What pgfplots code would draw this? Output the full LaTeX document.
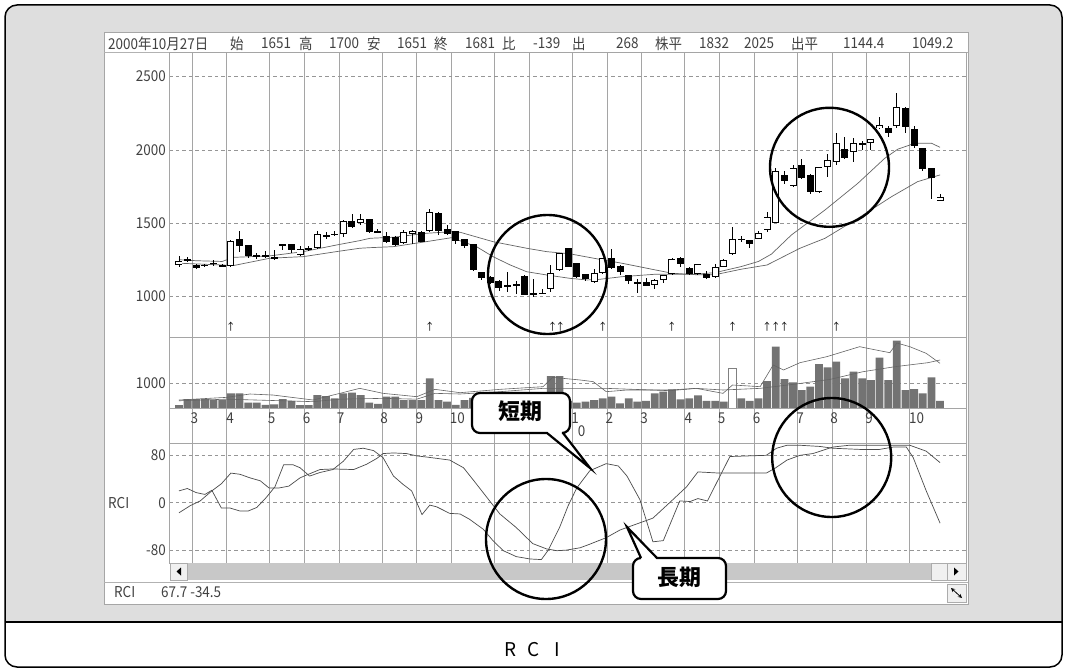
\documentclass[border=0pt]{standalone}
\usepackage{pgfplots}
\pgfplotsset{compat=1.18}
\usepackage{pgfplotstable}
\usepackage{fontspec}
\newfontfamily\cjk[FakeStretch=0.9]{Noto Sans CJK JP}
\newfontfamily\cjkn{Noto Sans CJK JP}
\definecolor{framegray}{RGB}{222,222,222}
\definecolor{gridv}{RGB}{165,165,165}
\definecolor{gridd}{RGB}{150,150,150}
\definecolor{volgray}{RGB}{115,115,115}
\definecolor{magray}{RGB}{100,100,100}
\definecolor{rcigray}{RGB}{75,75,75}
\definecolor{txt}{RGB}{65,65,65}
\definecolor{scroll}{RGB}{200,200,200}

\pgfplotstableread{
i O H L C
0 1215 1280 1205 1240
1 1250 1270 1235 1255
2 1216 1222 1190 1198
3 1214 1225 1200 1214
4 1228 1250 1210 1228
5 1209 1225 1200 1209
6 1211 1385 1205 1380
7 1393 1448 1307 1346
8 1350 1352 1265 1278
9 1280 1300 1260 1280
10 1280 1310 1265 1280
11 1273 1318 1250 1255
12 1360 1362 1320 1350
13 1357 1358 1300 1318
14 1284 1345 1280 1323
15 1325 1345 1310 1325
16 1330 1450 1325 1425
17 1414 1440 1395 1414
18 1425 1450 1415 1425
19 1425 1520 1410 1518
20 1518 1564 1470 1477
21 1500 1565 1490 1532
22 1528 1530 1435 1443
23 1443 1460 1435 1443
24 1416 1440 1365 1375
25 1409 1412 1345 1352
26 1364 1455 1360 1443
27 1427 1455 1360 1448
28 1443 1445 1370 1375
29 1448 1600 1440 1580
30 1573 1580 1420 1448
31 1461 1489 1420 1427
32 1448 1450 1360 1380
33 1391 1395 1330 1346
34 1359 1360 1175 1182
35 1166 1170 1115 1125
36 1136 1140 1085 1091
37 1109 1112 1040 1057
38 1080 1170 1030 1064
39 1080 1110 1015 1080
40 1143 1146 1010 1012
41 1018 1119 1000 1018
42 1023 1050 1018 1023
43 1050 1216 1035 1160
44 1182 1296 1175 1296
45 1330 1335 1200 1205
46 1228 1232 1130 1136
47 1153 1156 1110 1119
48 1098 1190 1095 1160
49 1160 1262 1155 1262
50 1262 1323 1190 1198
51 1211 1215 1150 1166
52 1148 1150 1085 1109
53 1087 1120 1023 1098
54 1102 1130 1070 1075
55 1080 1120 1050 1114
56 1114 1150 1095 1148
57 1155 1265 1150 1255
58 1266 1270 1205 1221
59 1198 1200 1150 1153
60 1153 1225 1150 1223
61 1153 1175 1120 1125
62 1132 1220 1128 1200
63 1205 1255 1200 1250
64 1291 1477 1285 1393
65 1391 1415 1370 1391
66 1386 1388 1335 1357
67 1393 1450 1390 1432
68 1455 1575 1440 1545
69 1505 1880 1500 1857
70 1830 1855 1765 1791
71 1755 1900 1750 1875
72 1898 1940 1800 1807
73 1830 1835 1700 1716
74 1716 1885 1710 1882
75 1882 1975 1818 1932
76 1920 2118 1898 2046
77 2005 2091 1935 1943
78 1989 2080 1920 2046
79 2041 2060 2000 2041
80 2046 2073 2000 2073
81 2148 2227 2140 2171
82 2148 2160 2087 2118
83 2160 2387 2150 2290
84 2285 2290 2114 2155
85 2141 2160 2010 2027
86 2012 2015 1860 1868
87 1875 1880 1664 1811
88 1651 1700 1651 1681
}\candles

\pgfplotstableread{
i V
0 132
1 372
2 372
3 372
4 332
5 332
6 598
7 598
8 226
9 226
10 133
11 153
12 372
13 300
14 130
15 130
16 532
17 492
18 399
19 598
20 625
21 532
22 226
23 180
24 465
25 465
26 332
27 332
28 332
29 1200
30 332
31 266
32 133
33 332
34 420
35 380
36 450
37 520
38 480
39 430
40 560
41 500
42 420
43 1292
44 1292
45 300
46 226
47 266
48 332
49 398
50 465
51 200
52 398
53 266
54 300
55 598
56 665
57 758
58 358
59 398
60 518
61 300
62 300
63 266
64 0
65 398
66 300
67 398
68 1092
69 2465
70 1172
71 1039
72 732
73 865
74 1772
75 1638
76 1865
77 1198
78 1465
79 1198
80 1132
81 2025
82 1132
83 2705
84 732
85 772
86 598
87 1238
88 300
}\volume

\pgfplotsset{panel/.style={
  scale only axis, anchor=north west, width=796.7bp,
  xmin=-1.12, xmax=91.0,
  xtick={1.5,5.5,10.5,14.5,18.5,23.5,27.5,31.5,36.5,40.5,45.5,49.5,53.5,58.5,62.5,66.5,71.5,75.5,79.5,84.5},
  xticklabels={},
  xmajorgrids, ymajorgrids,
  x grid style={gridv, line width=0.9bp},
  y grid style={gridd, line width=0.8bp, dash pattern=on 3.5bp off 3bp},
  axis line style={draw=gridv, line width=0.9bp},
  tick style={draw=none}, major tick length=0pt,
  yticklabel style={font=\cjk\fontsize{15}{15}\selectfont, text=txt},
  clip=true,
}}

\begin{document}
\begin{tikzpicture}[x=1bp,y=1bp]
\path[use as bounding box] (0,0) rectangle (1067,-672);
\fill[white] (0,0) rectangle (1067,-672);
\begin{scope}
\clip[rounded corners=12bp] (5,-5) rectangle (1062,-667);
\fill[framegray] (5,-5) rectangle (1062,-622);
\fill[white] (5,-622) rectangle (1062,-667);
\end{scope}
\draw[line width=1.5bp, rounded corners=12bp] (5,-5) rectangle (1062,-667);
\draw[line width=1.2bp] (5,-622) -- (1062,-622);

% chart window
\draw[fill=white, draw=gray!70, line width=1bp] (104,-33) rectangle (968,-604);
\draw[gray!60, line width=0.9bp] (104,-52.7) -- (968,-52.7);
\draw[gray!60, line width=0.9bp] (104,-582) -- (968,-582);

% header
\begin{scope}[every node/.style={anchor=west, inner sep=0pt, text=txt, font=\cjk\fontsize{15}{15}\selectfont}]
\node at (108,-43.5) {2000年10月27日};
\node at (230,-43.5) {始};
\node at (261,-43.5) {1651};
\node at (299,-43.5) {高};
\node at (329,-43.5) {1700};
\node at (367,-43.5) {安};
\node at (397,-43.5) {1651};
\node at (434,-43.5) {終};
\node at (465,-43.5) {1681};
\node at (502,-43.5) {比};
\node at (533,-43.5) {-139};
\node at (572,-43.5) {出};
\node at (616,-43.5) {268};
\node at (655,-43.5) {株平};
\node at (699,-43.5) {1832};
\node at (744,-43.5) {2025};
\node at (791,-43.5) {出平};
\node at (843,-43.5) {1144.4};
\node at (912,-43.5) {1049.2};
\end{scope}

% price panel
\begin{axis}[panel, at={(169.3bp,-52.7bp)}, height=284.3bp, ymin=725, ymax=2663,
  ytick={1000,1500,2000,2500}, yticklabels={1000,1500,2000,2500}]
\addplot[magray, line width=0.7bp, mark=none] coordinates {(0,1252) (2,1245) (5,1240) (6.3,1268) (10.5,1278) (14.4,1307) (18.2,1352) (20.9,1382) (22.1,1398) (24.8,1405) (28.6,1432) (31.5,1443) (32.5,1439) (36.3,1375) (40.2,1330) (42.5,1307) (45.2,1292) (48.6,1255) (51.2,1228) (55.1,1182) (57,1160) (59.7,1150) (62,1150) (65,1187) (68,1216) (71.8,1330) (74.7,1398) (78.5,1534) (82.4,1682) (85.4,1784) (88,1830)};
\addplot[magray, line width=0.7bp, mark=none] coordinates {(0,1228) (5,1216) (6.3,1212) (10.5,1262) (14.4,1273) (18.2,1307) (20.9,1330) (22.1,1334) (24.8,1341) (28.6,1375) (31.5,1402) (34.4,1341) (36.3,1273) (38.3,1216) (40.2,1170) (42.5,1148) (45.2,1125) (47.2,1114) (48.6,1118) (51.2,1136) (55.1,1153) (59.7,1153) (62,1164) (65,1205) (67,1240) (68.5,1290) (70.8,1420) (74.7,1591) (78.5,1773) (81.6,1943) (83.1,2005) (85.1,2046) (87,2046) (88,2018)};
% wicks
\addplot[draw=none, mark=none, error bars/.cd, y dir=both, y explicit, error mark=none,
  error bar style={draw=black, line width=0.9bp}]
  table[x=i, y expr={0.5*(\thisrow{H}+\thisrow{L})}, y error expr={0.5*(\thisrow{H}-\thisrow{L})}] {\candles};
% bodies
\addplot[draw=none, mark=none, error bars/.cd, y dir=both, y explicit, error mark=none,
  error bar style={draw=black, line width=7bp}]
  table[x=i, y expr={0.5*(\thisrow{O}+\thisrow{C})}, y error expr={max(0.5*abs(\thisrow{C}-\thisrow{O}),4)}] {\candles};
% hollow up bodies
\addplot[draw=none, mark=none, error bars/.cd, y dir=both, y explicit, error mark=none,
  error bar style={draw=white, line width=5.2bp}]
  table[x=i, y expr={0.5*(\thisrow{O}+\thisrow{C})}, y error expr={max(0.5*(\thisrow{C}-\thisrow{O})-7,0)}] {\candles};
% signal arrows
\addplot[only marks, black, mark=text, text mark={\cjkn\fontsize{10}{10}\selectfont ↑}]
  coordinates {(6,795) (29,795) (43.2,795) (44.1,795) (49,795) (57,795) (64,795) (68,795) (69,795) (70,795) (76,795)};
\end{axis}

% volume panel
\begin{axis}[panel, at={(169.3bp,-337bp)}, height=106bp, ymin=-1388, ymax=2852,
  ytick={1000}, yticklabels={1000}]
\addplot[ybar, bar width=0.9, bar shift=0pt, fill=volgray, draw=none] table[x=i, y=V] {\volume};
\addplot[ybar, bar width=0.9, bar shift=0pt, fill=white, draw=gray, line width=0.8bp] coordinates {(64,1598)};
\addplot[magray, line width=0.6bp, mark=none] coordinates {(0,332) (5.5,438) (8.2,572) (10.9,530) (15.5,332) (18.6,598) (20.9,798) (23.6,598) (27.5,465) (29.6,758) (32.5,625) (37.1,758) (42.1,865) (43.2,1238) (46.4,1132) (47.9,1066) (49.4,665) (51.8,732) (56.8,732) (59.8,798) (62.9,598) (64,932) (67.2,865) (68.7,1732) (69.9,1532) (71.8,1825) (74.9,2065) (78.7,2465) (81,2305) (82.2,2225) (83,2612) (84.5,2465) (86.4,2198) (88,1798)};
\addplot[magray, line width=0.6bp, mark=none] coordinates {(0,301) (5.5,365) (15.5,266) (18.6,365) (23.6,398) (27.5,365) (29.6,598) (32.5,572) (37.1,665) (42.1,798) (46.4,798) (49.4,798) (56.8,705) (59.8,798) (62.9,732) (67.2,798) (71.4,975) (75.3,1158) (79.1,1465) (82.8,1665) (86.6,1825) (88,1932)};
\draw[gridv, line width=0.9bp] (axis cs:-1.12,0) -- (axis cs:91,0);
\end{axis}

% RCI panel
\begin{axis}[panel, at={(169.3bp,-443bp)}, height=120bp, ymin=-101.8, ymax=100.8,
  ytick={-80,0,80}, yticklabels={-80,0,80}]
\addplot[rcigray, line width=0.7bp, mark=none] coordinates {(0,20) (0.96,24) (2,17) (3,14) (3.8,21) (4.9,-9) (5.9,-9) (7.05,-14) (8,-14) (9,-8) (10.1,9) (11.1,27) (12.1,64) (13.2,64) (14,59) (15.1,45) (16.3,51) (17.8,56) (19,70) (20.2,90) (21.3,92) (22.5,88) (23.6,76) (24.8,45) (25.9,31) (26.9,20) (28.1,-20) (29,-4) (29.8,-7) (31.3,-18) (32.5,-19) (33.6,-28) (35.2,-45) (36.3,-64) (37.5,-81) (39,-91) (40.6,-95) (41.9,-96) (42.7,-80) (44,-42) (45,-5) (46,25) (47.5,54) (49.4,66) (50.8,62) (51.8,45) (53.3,5) (54.8,-66) (56,-64) (57.9,3) (59.1,2) (60,7) (61.1,3) (63.7,78) (67.9,80) (69.1,92) (70.3,97) (71.8,97) (74.1,95) (75.6,92) (78.7,90) (81,90) (82.6,94) (84.1,94) (84.9,76) (86.4,20) (88,-34.5)};
\addplot[rcigray, line width=0.7bp, mark=none] coordinates {(0,-17) (1.3,-5) (2.45,3) (3.8,20) (4.9,32) (6,50) (7.05,48) (8.2,42) (9.4,37) (10.4,25) (11.6,25) (12.7,28) (14,42) (14.8,47) (16.3,56) (17.8,57) (20.2,56) (21.7,65) (22.9,75) (23.6,83) (24.8,84) (26.3,83) (27.5,79) (28.7,77) (31.3,72) (32.9,59) (34.1,37) (35.6,9) (37.1,-19) (39,-42) (40.9,-69) (42.5,-78) (43.7,-81) (44.8,-80) (46.4,-76) (47.5,-70) (49.4,-59) (51,-46) (54.8,-26) (56.8,1) (58.7,27) (60,52) (62.5,50) (67.9,50) (68.9,58) (70.3,72) (71.8,80) (73.3,83) (75.6,94) (77.5,97) (84.5,97) (86.4,87) (88,67.7)};
\end{axis}

% month labels
\begin{scope}[every node/.style={inner sep=0pt, text=txt, font=\cjk\fontsize{15}{15}\selectfont}]
\node at (194.3,-418) {3};
\node at (230,-418) {4};
\node at (271.7,-418) {5};
\node at (306.7,-418) {6};
\node at (340.7,-418) {7};
\node at (384,-418) {8};
\node at (419.3,-418) {9};
\node at (457.3,-418) {10};
\node at (575,-418) {1};
\node at (581.5,-431) {0};
\node at (609.3,-418) {2};
\node at (644,-418) {3};
\node at (688.3,-418) {4};
\node at (721.7,-418) {5};
\node at (756.7,-418) {6};
\node at (800,-418) {7};
\node at (834,-418) {8};
\node at (869,-418) {9};
\node at (916.7,-418) {10};
\node[anchor=west] at (108,-503) {RCI};
\node[anchor=west] at (114,-592.5) {RCI};
\node[anchor=west] at (161,-592.5) {67.7 -34.5};
\end{scope}

% scrollbar
\fill[scroll] (170,-563) rectangle (966,-580);
\draw[fill=gray!12, draw=gray!65, line width=0.8bp] (170,-563) rectangle (187,-580);
\fill[black] (181,-567.5) -- (181,-575.5) -- (176.5,-571.5) -- cycle;
\draw[fill=gray!12, draw=gray!65, line width=0.8bp] (931,-563) rectangle (947,-580);
\draw[fill=gray!12, draw=gray!65, line width=0.8bp] (947,-563) rectangle (966,-580);
\fill[black] (954,-567.5) -- (954,-575.5) -- (958.5,-571.5) -- cycle;
\draw[fill=gray!12, draw=gray!65, line width=0.8bp] (947,-584) rectangle (966,-602);
\draw[<->, >=stealth, line width=0.8bp] (951,-588) -- (962,-598);

% circles
\draw[line width=2.4bp] (547.5,-274.5) circle[radius=59.5];
\draw[line width=2.4bp] (829.5,-167.3) circle[radius=59.5];
\draw[line width=2.4bp] (546,-539) circle[radius=60];
\draw[line width=2.4bp] (831.7,-457.5) circle[radius=59.5];

% callouts
\draw[line width=2.2bp, fill=white, rounded corners=8bp] (472,-393) -- (570,-393) -- (570,-433) [sharp corners]-- (563,-433) -- (590,-468) -- (547,-433) [rounded corners=8bp]-- (472,-433) -- cycle;
\node[font=\cjkn\bfseries\fontsize{22}{22}\selectfont, inner sep=0pt] at (520,-411) {短期};
\draw[line width=2.2bp, fill=white, rounded corners=8bp] (726,-558) -- (726,-599) -- (633,-599) -- (633,-558) [sharp corners]-- (641,-558) -- (627,-527) -- (657,-558) [rounded corners=8bp]-- cycle;
\node[font=\cjkn\bfseries\fontsize{22}{22}\selectfont, inner sep=0pt] at (679,-577) {長期};

% title
\begin{scope}[every node/.style={inner sep=0pt, font=\cjkn\fontsize{19}{19}\selectfont}]
\node at (511,-650) {R};
\node at (534,-650) {C};
\node at (557,-650) {I};
\end{scope}
\end{tikzpicture}
\end{document}
